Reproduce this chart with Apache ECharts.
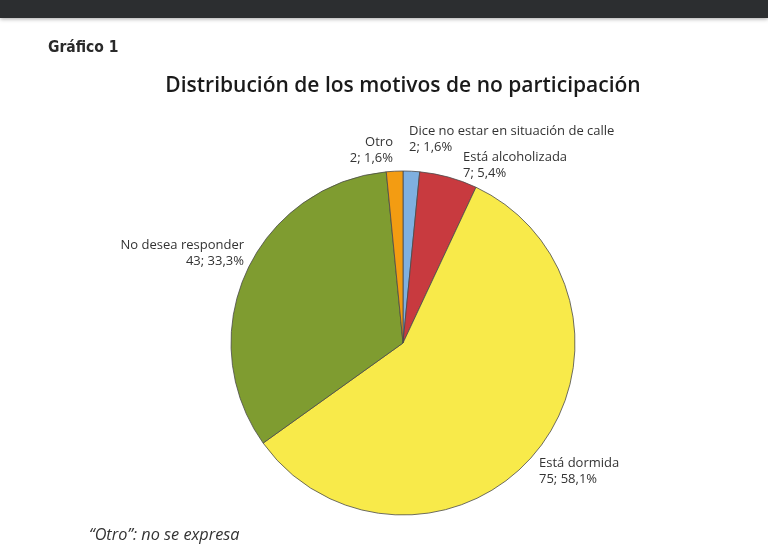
<!DOCTYPE html>
<html>
<head>
<meta charset="utf-8">
<script src="https://cdn.jsdelivr.net/npm/echarts@6/dist/echarts.min.js"></script>
<style>
html,body{margin:0;padding:0;background:#fff;}
#c{width:768px;height:548px;}
</style>
</head>
<body>
<div id="c"></div>
<script>
// Data
const categories = ["Dice no estar en situación de calle", "Está alcoholizada", "Está dormida", "No desea responder", "Otro"];
const counts = [2, 7, 75, 43, 2];
const percents = ["1,6%", "5,4%", "58,1%", "33,3%", "1,6%"];
const colors = ["#7fb0e0", "#c83a3f", "#f8ea4a", "#7f9c30", "#f39c12"];

// label layout (positions of label text blocks)
const labelPos = [
  {x: 409, y: 139, align: "left"},
  {x: 463, y: 165, align: "left"},
  {x: 539, y: 471, align: "left"},
  {x: 244, y: 253, align: "right"},
  {x: 393, y: 150, align: "right"}
];

const chart = echarts.init(document.getElementById('c'));
const font = "'Open Sans', sans-serif";
chart.setOption({
  animation: false,
  backgroundColor: "#ffffff",
  title: [{
    text: "Distribución de los motivos de no participación",
    left: 398, top: 71, textAlign: "center",
    textStyle: {fontFamily: font, fontSize: 21, fontWeight: 600, color: "#1a1a1a"}
  }, {
    text: "Gráfico 1",
    left: 43, top: 35,
    textStyle: {fontFamily: "'DejaVu Sans Condensed', 'Roboto', sans-serif", fontSize: 15.5, fontWeight: "bold", color: "#2a2a2a"}
  }, {
    text: "\u201cOtro\u201d: no se expresa",
    left: 84, top: 522,
    textStyle: {fontFamily: font, fontSize: 16.3, fontStyle: "italic", fontWeight: "normal", color: "#333"}
  }],
  graphic: [{
    type: "rect", left: 0, top: 0,
    shape: {width: 768, height: 18},
    style: {fill: "#2c2e30", shadowBlur: 4, shadowColor: "rgba(0,0,0,0.35)", shadowOffsetY: 1}
  }],
  series: [{
    type: "pie",
    center: [403, 343],
    radius: [0, 172],
    startAngle: 90,
    clockwise: true,
    data: categories.map((c, i) => ({name: c, value: counts[i], itemStyle: {color: colors[i]}})),
    itemStyle: {borderColor: "#4a4a4a", borderWidth: 0.8},
    label: {
      show: true,
      position: "outside",
      formatter: p => p.name + "\n" + p.value + "; " + percents[p.dataIndex],
      fontFamily: font, fontSize: 13, color: "#333", lineHeight: 16
    },
    labelLine: {show: false},
    labelLayout: p => {
      const l = labelPos[p.dataIndex];
      return {x: l.x, y: l.y, align: l.align, verticalAlign: "middle"};
    },
    emphasis: {disabled: true}
  }]
});
</script>
</body>
</html>
